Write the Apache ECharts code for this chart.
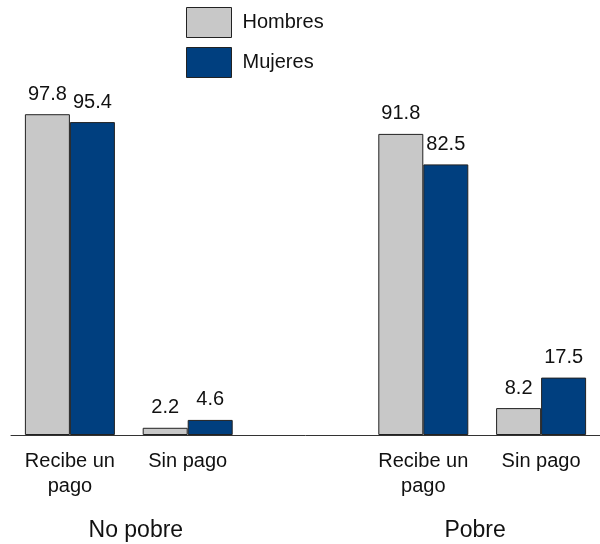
<!DOCTYPE html>
<html><head><meta charset="utf-8">
<script src="https://cdn.jsdelivr.net/npm/echarts@6/dist/echarts.min.js"></script>
<style>html,body{margin:0;padding:0;background:#fff}#c{width:600px;height:544px}</style>
</head><body><div id="c"></div>
<script>
const categories = ['Recibe un\npago', 'Sin pago', '', 'Recibe un\npago', 'Sin pago'];
const hombres = [97.8, 2.2, null, 91.8, 8.2];
const mujeres = [95.4, 4.6, null, 82.5, 17.5];
const groups = [{name: 'No pobre', from: 0, to: 1}, {name: 'Pobre', from: 3, to: 4}];

const chart = echarts.init(document.getElementById('c'));
const font = 'Liberation Sans, Arial, sans-serif';
const lbl = {show: true, position: 'top', fontSize: 20, color: '#111', fontFamily: font, distance: 10,
  formatter: p => p.value.toFixed(1)};
chart.setOption({
  animation: false,
  legend: {
    orient: 'vertical', left: 186, top: 7, padding: 0, itemWidth: 45, itemHeight: 30, itemGap: 9,
    textStyle: {fontSize: 20, fontFamily: font, color: '#111', padding: [0, 0, 0, 6]},
    icon: 'rect',
    itemStyle: {borderColor: '#222', borderWidth: 1},
    data: ['Hombres', 'Mujeres']
  },
  grid: {left: 11, right: 0, top: 107, bottom: 109, containLabel: false},
  xAxis: {
    type: 'category', data: categories,
    axisLine: {lineStyle: {color: '#333', width: 1}},
    axisTick: {show: false},
    axisLabel: {fontSize: 20, fontFamily: font, color: '#111', lineHeight: 25, margin: 14, interval: 0}
  },
  yAxis: {type: 'value', min: 0, max: 100, show: false},
  series: [
    {name: 'Hombres', type: 'bar', data: hombres, barWidth: 45, barGap: '0%',
     itemStyle: {color: '#c8c8c8', borderColor: '#222', borderWidth: 1}, label: lbl},
    {name: 'Mujeres', type: 'bar', data: mujeres, barWidth: 45, barGap: '0%',
     itemStyle: {color: '#003f7f', borderColor: '#222', borderWidth: 1}, label: lbl}
  ]
});
const centre = 305;
const els = groups.map(g => {
  const a = chart.convertToPixel({xAxisIndex: 0}, g.from);
  const b = chart.convertToPixel({xAxisIndex: 0}, g.to);
  const mid = (a + b) / 2;
  return {type: 'text', x: mid + (centre - mid) * 0.04, y: 531,
    style: {text: g.name, fontSize: 23, fontFamily: font, fill: '#111', align: 'center', verticalAlign: 'middle'}};
});
chart.setOption({graphic: els});
</script></body></html>
